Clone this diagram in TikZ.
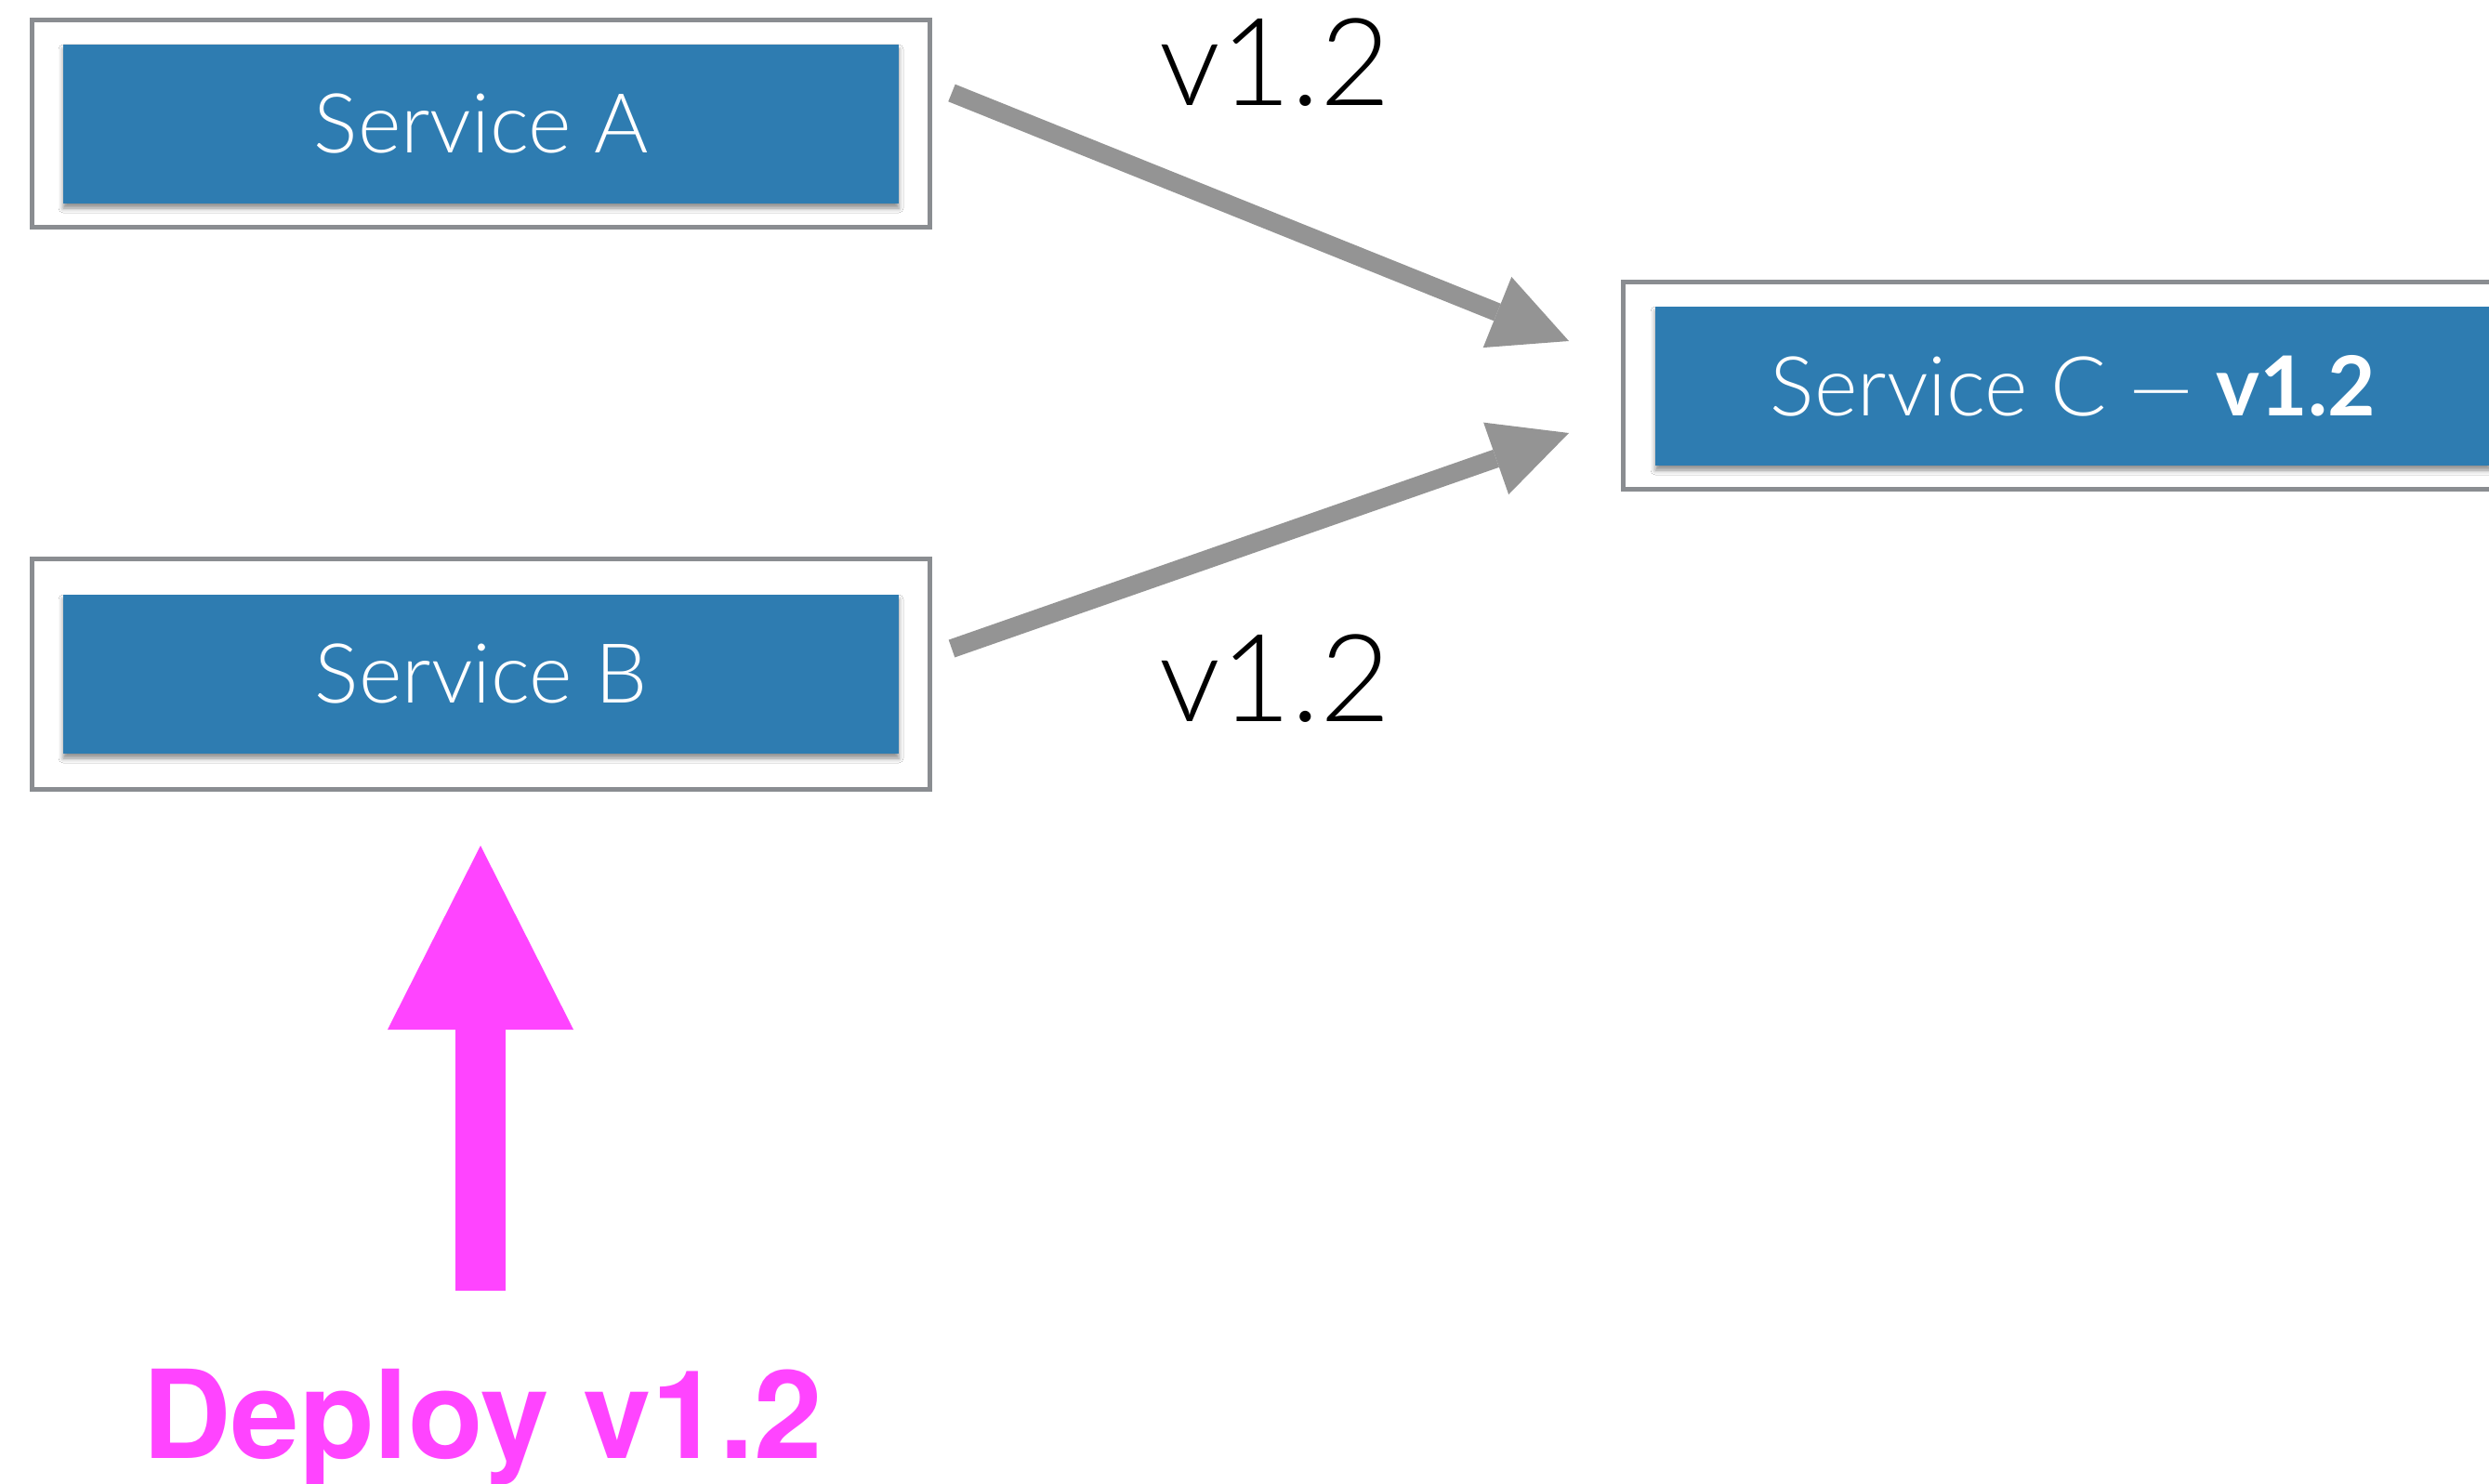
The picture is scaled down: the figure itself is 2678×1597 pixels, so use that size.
\documentclass[tikz,border=0pt]{standalone}
\usepackage{fontspec}
\setmainfont{TeX Gyre Heros}
\newfontfamily\lightfont{Lato}[UprightFont=* Light, BoldFont=* Bold]
\usetikzlibrary{arrows.meta,shadows.blur}

\definecolor{svcblue}{HTML}{2E7CB1}
\definecolor{framegray}{HTML}{8A8D91}
\definecolor{flowgray}{HTML}{949494}
\definecolor{deploypink}{HTML}{FF44FF}

\newcommand\svcfont{\lightfont\fontsize{89}{100}\selectfont}
\newcommand\verfont{\lightfont\fontsize{131}{140}\selectfont}

\begin{document}
\begin{tikzpicture}[x=1pt,y=-1pt,
  outerbox/.style={draw=framegray, line width=5pt, fill=white,
    inner sep=0pt, outer sep=0pt, minimum width=966pt},
  svcbox/.style={fill=svcblue, text=white, inner sep=0pt, outer sep=0pt,
    minimum width=899pt, minimum height=171pt, font=\svcfont,
    blur shadow={shadow xshift=0pt, shadow yshift=-5pt,
      shadow blur radius=5pt, shadow opacity=45}},
  verlabel/.style={anchor=base, inner sep=0pt, font=\verfont, text=black},
  flow/.style={draw=flowgray, line width=20pt,
    -{Triangle[length=83pt,width=82pt,line width=0pt]}},
  deployflow/.style={draw=deploypink, line width=54pt,
    -{Triangle[length=198pt,width=200pt,line width=0pt]}}
]
\useasboundingbox (0,0) rectangle (2678,1597);
\clip (0,0) rectangle (2678,1597);
\fill[white] (0,0) rectangle (2678,1597);

% framed services
\node[outerbox, minimum height=222.5pt] (frameA) at (517.5,133.25) {};
\node[svcbox] (svcA) at (517.5,133.5) {Service A};

\node[outerbox, minimum height=248pt] (frameB) at (517.5,725.5) {};
\node[svcbox] (svcB) at (517.5,725.5) {Service B};

\node[outerbox, minimum height=223pt] (frameC) at (2229.5,415) {};
\node[svcbox] (svcC) at (2230.5,415.5) {Service C — \textbf{v1.2}};

% version labels on the calls
\node[verlabel] (verA) at (1372,114) {v1.2};
\node[verlabel] (verB) at (1372,776) {v1.2};

% call arrows into Service C
\coordinate (callAstart) at (1024,100);
\coordinate (callAend) at (1688,367);
\coordinate (callBstart) at (1024,698);
\coordinate (callBend) at (1688,466);
\draw[flow] (callAstart) -- (callAend);
\draw[flow] (callBstart) -- (callBend);

% deployment of Service B
\node[anchor=base, inner sep=0pt, text=deploypink,
  font=\fontsize{132}{140}\selectfont\bfseries] (deploy) at (519,1569) {Deploy v1.2};
\coordinate (deployStart) at (517,1389);
\coordinate (deployEnd) at (517,910);
\draw[deployflow] (deployStart) -- (deployEnd);
\end{tikzpicture}
\end{document}
